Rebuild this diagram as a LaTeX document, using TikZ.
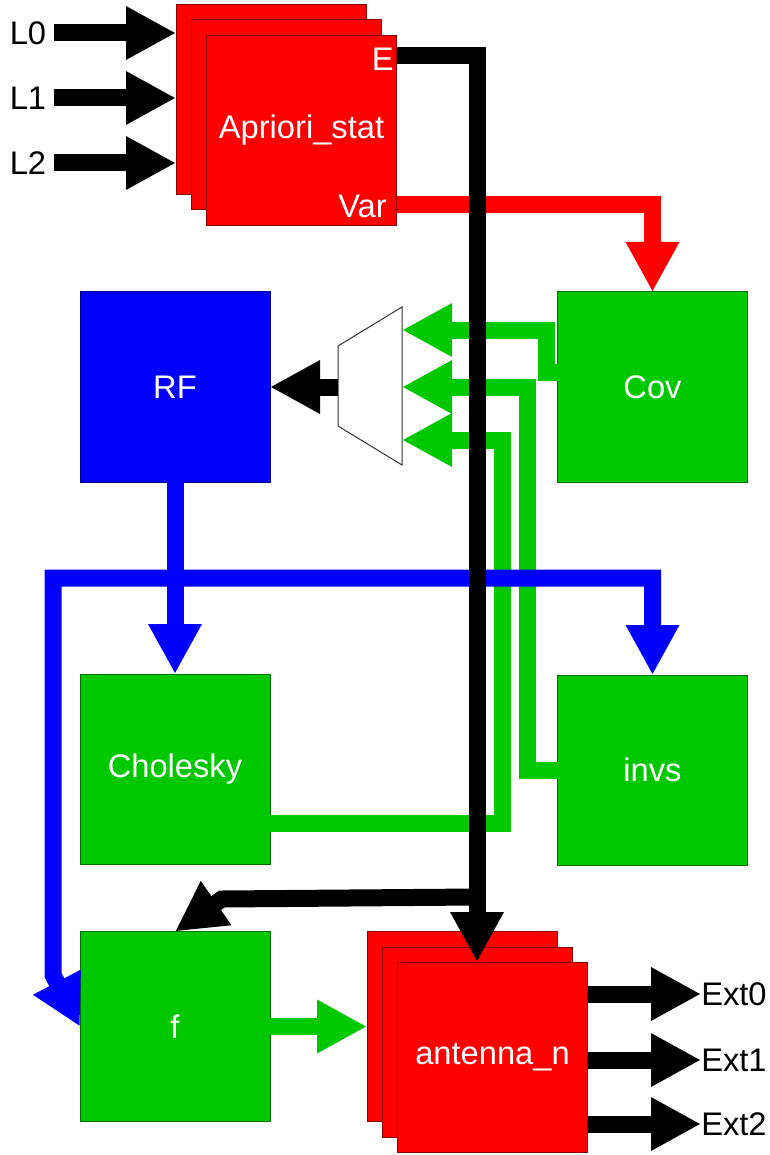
\documentclass[tikz,border=0pt]{standalone}
\usepackage{fontspec}
\setmainfont{Liberation Sans}
\usetikzlibrary{arrows.meta,positioning,calc}
\definecolor{hwred}{HTML}{FF0000}
\definecolor{hwgreen}{HTML}{00C800}
\definecolor{hwblue}{HTML}{0000FF}
\newcommand{\blkfont}{\fontsize{24.5}{29}\selectfont}

\begin{document}
\begin{tikzpicture}[x=0.75pt,y=-0.75pt,>={Triangle[width=37.5pt,length=37.5pt]},
blk/.style={draw=#1!55!black,fill=#1,minimum size=142.5pt,inner sep=0pt,outer sep=0pt,line width=0.75pt,text=white,font=\blkfont},
bus/.style={line width=12.75pt,draw=#1},
pin/.style={font=\blkfont,inner sep=0pt}]
\useasboundingbox (0,0) rectangle (769,1155);
% stacked input block
\node[blk=hwred] (apri2) at (271,100) {};
\node[blk=hwred] (apri1) at (286,115) {};
\node[blk=hwred] (apri) at (301.5,130.5) {Apriori\_stat};
\node[pin,text=white,anchor=north east] (apriE) at (394,48) {E};
\node[pin,text=white,anchor=south east] (apriVar) at (387,218) {Var};
\node[pin,outer sep=6pt] (l0) at (28,33) {L0};
\node[pin,outer sep=6pt] (l1) at (28,98) {L1};
\node[pin,outer sep=6pt] (l2) at (28,163) {L2};
% processing blocks
\node[blk=hwblue] (rf) at (175,387) {RF};
\node[blk=hwgreen] (cov) at (652.5,387) {Cov};
\node[blk=hwgreen] (chol) at (175,769) {Cholesky};
\node[blk=hwgreen] (invs) at (652.5,770) {invs};
\node[blk=hwgreen] (f) at (175,1026.5) {f};
% stacked output block
\node[blk=hwred] (ant2) at (462,1026.5) {};
\node[blk=hwred] (ant1) at (477,1042) {};
\node[blk=hwred] (ant) at (492.5,1057) {antenna\_n};
\node[pin,anchor=west] (e0) at (701,994) {Ext0};
\node[pin,anchor=west] (e1) at (701,1060) {Ext1};
\node[pin,anchor=west] (e2) at (701,1124) {Ext2};
% mux
\draw[fill=white,line width=0.75pt,draw=black!80] (338,346) -- (402,307) -- (402,465) -- (338,426) -- cycle;
\coordinate (muxout) at (338,387);
\coordinate (muxa) at (402,330);
\coordinate (muxb) at (402,387);
\coordinate (muxc) at (402,440);
\coordinate (tap) at (476,897);
% green
\draw[bus=hwgreen,->] ($(cov.west)+(0,-15)$) -| (546,330) -- (muxa);
\draw[bus=hwgreen,->] (invs.west) -| (527,387) -- (muxb);
\draw[bus=hwgreen,->] ($(chol.east)+(0,54)$) -| (502,440) -- (muxc);
\draw[bus=hwgreen,->] (f.east) -- (ant2.west);
% blue
\draw[bus=hwblue,->] (rf.south) -- (chol.north);
\draw[bus=hwblue,<->] (f.west) -- (53,975) -- (53,578) -| (invs.north);
% red
\draw[bus=hwred,->] ($(apri.east)+(0,74)$) -| (cov.north);
% black
\draw[bus=black,->] (l0.east) -- (apri2.west |- l0.east);
\draw[bus=black,->] (l1.east) -- (apri2.west |- l1.east);
\draw[bus=black,->] (l2.east) -- (apri2.west |- l2.east);
\draw[bus=black,->] (muxout) -- (rf.east);
\draw[bus=black,->] ($(apri.east)+(0,-75)$) -| (ant1.north |- ant.north);
\draw[bus=black,->] (tap) -- (222,899) -- (f.north);
\draw[bus=black,->] (ant.east |- e0.west) -- (e0.west);
\draw[bus=black,->] (ant.east |- e1.west) -- (e1.west);
\draw[bus=black,->] (ant.east |- e2.west) -- (e2.west);
\end{tikzpicture}
\end{document}
